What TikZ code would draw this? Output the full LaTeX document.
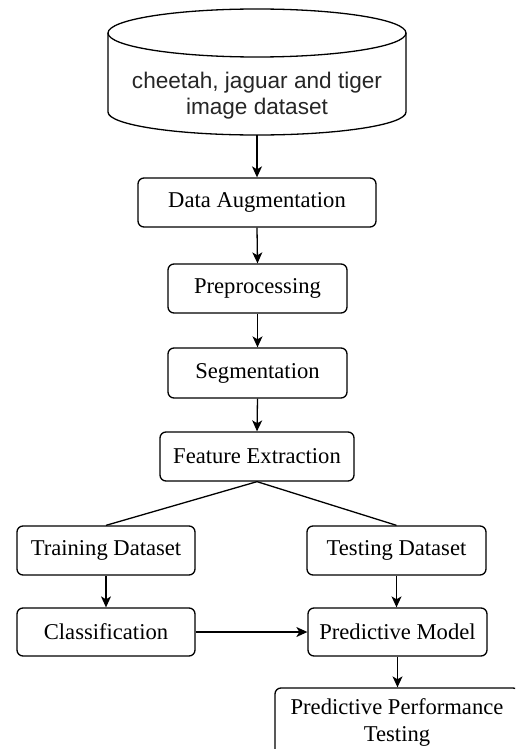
\documentclass[tikz,border=0pt]{standalone}
\usepackage{fontspec}
\setmainfont{Liberation Serif}
\newfontfamily\labelsans{Liberation Sans}
\usetikzlibrary{arrows.meta}
\begin{document}
\begin{tikzpicture}[x=1pt,y=1pt,
  line/.style={line width=1.3pt, draw=black},
  flow/.style={line, -{Stealth[length=11pt,width=10pt,inset=3pt]}},
  stepbox/.style={line, rounded corners=6pt, fill=white, align=center,
    inner sep=0pt, font=\fontsize{22.6}{27}\selectfont},
]
\useasboundingbox (0,0) rectangle (515,-749);
\clip (0,0) rectangle (515,-749);

% database cylinder
\draw[line, fill=white] (108,-33) -- (108,-112)
  arc[start angle=180, end angle=360, x radius=149pt, y radius=23pt]
  -- (406,-33);
\draw[line, fill=white] (257,-33) ellipse [x radius=149pt, y radius=24pt];
\node (db) [minimum width=298pt, minimum height=126pt, inner sep=0pt] at (257,-72) {};
\node (dbtext) [align=center, font=\labelsans\fontsize{22.6}{26}\selectfont, text=black!85]
  at (257,-96) {cheetah, jaguar and tiger\\image dataset};

% process steps
\node (aug)   [stepbox, minimum width=238pt, minimum height=49pt] at (257,-202.5) {Data Augmentation};
\node (prep)  [stepbox, minimum width=179pt, minimum height=49pt] at (257.5,-288.5) {Preprocessing};
\node (seg)   [stepbox, minimum width=179pt, minimum height=50pt] at (257.5,-373) {Segmentation};
\node (feat)  [stepbox, minimum width=194pt, minimum height=49pt] at (257,-456.5) {Feature Extraction};
\node (train) [stepbox, minimum width=178pt, minimum height=49pt] at (106,-550.5) {Training Dataset};
\node (test)  [stepbox, minimum width=179pt, minimum height=49pt] at (396.5,-550.5) {Testing Dataset};
\node (class) [stepbox, minimum width=178pt, minimum height=48pt] at (106,-632) {Classification};
\node (pred)  [stepbox, minimum width=179pt, minimum height=48pt] at (397.5,-632) {Predictive Model};
\node (perf)  [stepbox, minimum width=244pt, minimum height=68pt] at (397,-722) {Predictive Performance\\Testing};

% connectors
\draw[flow] (db.south) -- (aug.north);
\draw[flow] (aug.south) -- (prep.north);
\draw[flow] (prep.south) -- (seg.north);
\draw[flow] (seg.south) -- (feat.north);
\draw[line] (feat.south) -- (train.north);
\draw[line] (feat.south) -- (test.north);
\draw[flow] (train.south) -- (class.north);
\draw[flow] (test.south) -- (test.south |- pred.north);
\draw[flow] (class.east) -- (pred.west);
\draw[flow] (pred.south) -- (pred.south |- perf.north);
\end{tikzpicture}
\end{document}
